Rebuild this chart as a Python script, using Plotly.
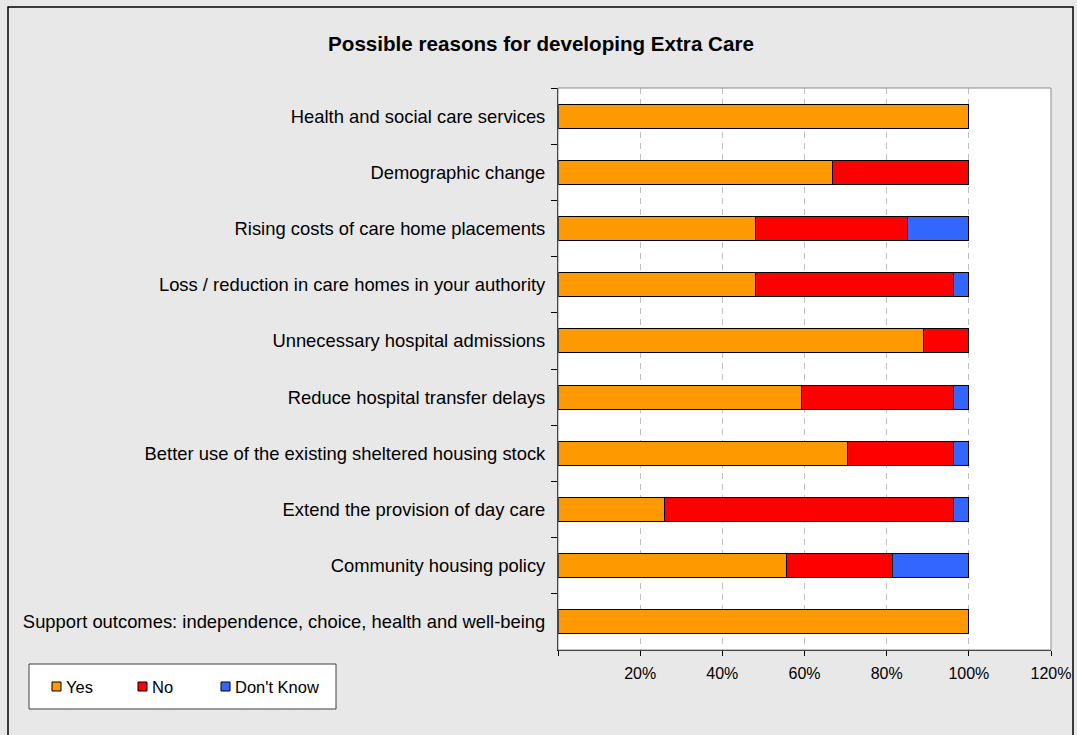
import plotly.graph_objects as go

# Survey responses (% of authorities) for each possible reason
categories = [
    "Health and social care services",
    "Demographic change",
    "Rising costs of care home placements",
    "Loss / reduction in care homes in your authority",
    "Unnecessary hospital admissions",
    "Reduce hospital transfer delays",
    "Better use of the existing sheltered housing stock",
    "Extend the provision of day care",
    "Community housing policy",
    "Support outcomes: independence, choice, health and well-being",
]
yes_pct = [100.0, 66.7, 48.1, 48.1, 88.9, 59.3, 70.4, 25.9, 55.6, 100.0]
no_pct = [0.0, 33.3, 37.0, 48.1, 11.1, 37.0, 25.9, 70.4, 25.9, 0.0]
dont_know_pct = [0.0, 0.0, 14.8, 3.7, 0.0, 3.7, 3.7, 3.7, 18.5, 0.0]

series_names = ["Yes", "No", "Don't Know"]
series_colors = ["#FF9900", "#FF0000", "#3366FF"]
tick_values = [0, 20, 40, 60, 80, 100, 120]
tick_labels = ["", "20%", "40%", "60%", "80%", "100%", "120%"]

W, H = 1077, 735
L, R, T, B = 558, 26, 88, 85
FONT = "Liberation Sans, Arial, sans-serif"


def px_x(p):
    return (p - L) / (W - L - R)


def px_y(p):
    return (H - B - p) / (H - T - B)


fig = go.Figure()
for name, vals, col in zip(series_names, [yes_pct, no_pct, dont_know_pct], series_colors):
    fig.add_trace(go.Bar(
        y=categories, x=vals, name=name, orientation="h",
        marker=dict(color=col, line=dict(color="#000000", width=1)),
        showlegend=False,
    ))

shapes = [
    # plot-area frame (top/right in grey)
    dict(type="rect", xref="paper", yref="paper", x0=0, x1=1, y0=0, y1=1,
         line=dict(color="#8C8C8C", width=1), layer="above"),
    # outer chart border
    dict(type="rect", xref="paper", yref="paper",
         x0=px_x(8), x1=px_x(1073), y0=px_y(745), y1=px_y(7),
         line=dict(color="#000000", width=1.5), layer="above"),
    # legend box
    dict(type="rect", xref="paper", yref="paper",
         x0=px_x(29), x1=px_x(336), y0=px_y(709), y1=px_y(664),
         fillcolor="#FFFFFF", line=dict(color="#404040", width=1), layer="above"),
]
annotations = []
legend_sq_x = [52, 138, 221]
for name, col, sx in zip(series_names, series_colors, legend_sq_x):
    shapes.append(dict(type="rect", xref="paper", yref="paper",
                       x0=px_x(sx), x1=px_x(sx + 9), y0=px_y(691), y1=px_y(682),
                       fillcolor=col, line=dict(color="#000000", width=1), layer="above"))
    annotations.append(dict(xref="paper", yref="paper", x=px_x(sx + 12), y=px_y(686.5),
                            text=name, showarrow=False, xanchor="left", yanchor="middle",
                            font=dict(family=FONT, size=16.5, color="#000000")))

fig.update_layout(
    width=W, height=H,
    margin=dict(l=L, r=R, t=T, b=B, autoexpand=False),
    barmode="stack", bargap=0.57,
    paper_bgcolor="#E8E8E8", plot_bgcolor="#FFFFFF",
    font=dict(family=FONT, color="#000000"),
    title=dict(text="<b>Possible reasons for developing Extra Care</b>",
               x=0.5023, xref="container", xanchor="center",
               y=1 - 44 / H, yref="container", yanchor="middle",
               font=dict(family=FONT, size=20.6, color="#000000")),
    shapes=shapes, annotations=annotations,
)
fig.update_xaxes(
    range=[0, 120], tickvals=tick_values, ticktext=tick_labels,
    showgrid=True, gridcolor="#C0C0C0", griddash="6px,5px", gridwidth=1,
    zeroline=False, showline=True, linecolor="#000000", linewidth=1,
    ticks="outside", ticklen=5, tickcolor="#000000", automargin=False,
    ticklabelstandoff=4,
    tickfont=dict(family=FONT, size=16, color="#000000"),
)
fig.update_yaxes(
    categoryorder="array", categoryarray=categories, autorange="reversed",
    showgrid=False, zeroline=False, showline=True, linecolor="#000000", linewidth=1,
    ticks="outside", ticklen=6, tickcolor="#000000", tickson="boundaries",
    ticklabelstandoff=8, automargin=False,
    tickfont=dict(family=FONT, size=18.4, color="#000000"),
)

fig.write_html("out.html")
